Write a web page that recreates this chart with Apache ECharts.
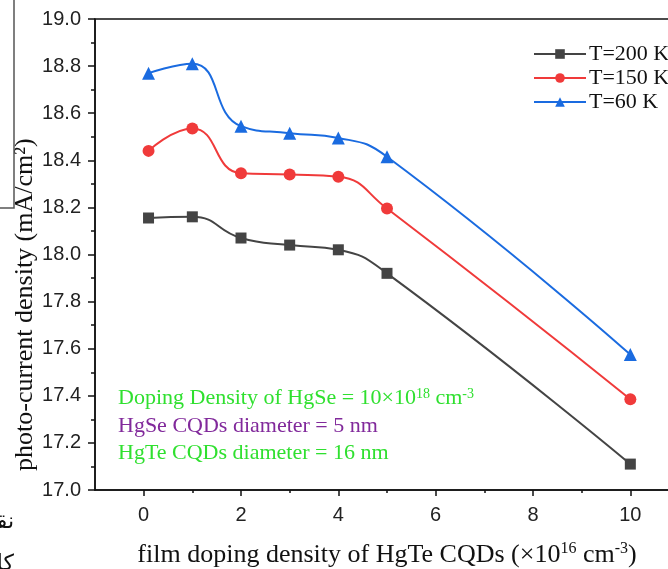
<!DOCTYPE html>
<html>
<head>
<meta charset="utf-8">
<script src="https://cdn.jsdelivr.net/npm/echarts@6/dist/echarts.min.js"></script>
<style>
html,body{margin:0;padding:0;background:#fff;}
#chart{width:668px;height:569px;}
</style>
</head>
<body>
<div id="chart"></div>
<script>
// Data
const dopingX = [0.1, 1, 2, 3, 4, 5, 10];
const t200 = [18.155, 18.16, 18.07, 18.04, 18.02, 17.92, 17.11];
const t150 = [18.44, 18.535, 18.345, 18.34, 18.33, 18.195, 17.385];
const t60 = [18.77, 18.81, 18.545, 18.515, 18.495, 18.415, 17.575];
const seriesNames = ['T=200 K', 'T=150 K', 'T=60 K'];
const xTickLabels = [0, 2, 4, 6, 8, 10];
const xMinorTicks = [1, 3, 5, 7, 9];
const notes = ['Doping Density of HgSe = 10×10{sup|18} cm{sup|-3}', 'HgSe CQDs diameter = 5 nm', 'HgTe CQDs diameter = 16 nm'];

const pair = (xs, ys) => xs.map((x, i) => [x, ys[i]]);
const serif = 'Liberation Serif';
const sans = 'Liberation Sans';

const chart = echarts.init(document.getElementById('chart'), null, {renderer: 'canvas'});
const lineStyles = [
  {color: '#444444', symbol: 'rect', size: 11},
  {color: '#f03a3a', symbol: 'circle', size: 12},
  {color: '#1a6be0', symbol: 'triangle', size: 13}
];
const dataSets = [t200, t150, t60];

chart.setOption({
  animation: false,
  backgroundColor: '#fff',
  grid: {left: 95, top: 19, width: 584, height: 471, containLabel: false, outerBoundsMode: 'none',
    show: true, borderColor: '#111', borderWidth: 1.5, backgroundColor: 'transparent'},
  legend: {
    orient: 'vertical', left: 533, top: 43, itemWidth: 52, itemHeight: 12, itemGap: 2, padding: 0,
    textStyle: {fontFamily: serif, fontSize: 22, color: '#111', padding: [0, 0, 0, -2]},
    data: seriesNames
  },
  xAxis: [{
    type: 'value', min: -1, max: 11,
    axisLine: {onZero: false, lineStyle: {color: '#111', width: 1.5}},
    axisTick: {show: true, length: 6, customValues: xTickLabels, lineStyle: {color: '#111', width: 1.5}},
    axisLabel: {customValues: xTickLabels, margin: 15, fontFamily: sans, fontSize: 20, color: '#222'},
    splitLine: {show: false},
    name: 'film doping density of HgTe CQDs (×10{sup|16} cm{sup|-3})',
    nameLocation: 'middle', nameGap: 51,
    nameTextStyle: {fontFamily: serif, fontSize: 26, color: '#111',
      rich: {sup: {fontFamily: serif, fontSize: 16, verticalAlign: 'top', padding: [0, 0, 12, 0], color: '#111'}}}
  }, {
    type: 'value', min: -1, max: 11, position: 'bottom', gridIndex: 0,
    axisLine: {show: false, onZero: false},
    axisTick: {show: true, length: 3, customValues: xMinorTicks, lineStyle: {color: '#111', width: 1.5}},
    axisLabel: {show: false},
    splitLine: {show: false}
  }],
  yAxis: {
    type: 'value', min: 17, max: 19, interval: 0.2,
    axisLine: {show: true, onZero: false, lineStyle: {color: '#111', width: 1.5}},
    axisTick: {show: true, length: 7, lineStyle: {color: '#111', width: 1.5}},
    minorTick: {show: true, splitNumber: 2, length: 4, lineStyle: {color: '#111', width: 1.5}},
    axisLabel: {margin: 14, fontFamily: sans, fontSize: 20, color: '#222', formatter: v => v.toFixed(1)},
    splitLine: {show: false}
  },
  series: dataSets.map((d, i) => ({
    name: seriesNames[i], type: 'line', smooth: 0.5,
    data: pair(dopingX, d),
    symbol: lineStyles[i].symbol, symbolSize: lineStyles[i].size, showAllSymbol: true,
    lineStyle: {color: lineStyles[i].color, width: 2},
    itemStyle: {color: lineStyles[i].color}
  })),
  graphic: [
    {type: 'text', left: 118, top: 387, style: {text: notes[0], fill: '#2fe02f', font: '22px ' + serif,
      rich: {sup: {fontSize: 14, fontFamily: serif, fill: '#2fe02f', verticalAlign: 'top', padding: [0, 0, 9, 0]}}}},
    {type: 'text', left: 118, top: 415, style: {text: notes[1], fill: '#81299b', font: '22px ' + serif}},
    {type: 'text', left: 118, top: 442, style: {text: notes[2], fill: '#2fe02f', font: '22px ' + serif}},
    {type: 'text', x: 38, y: 471, rotation: Math.PI / 2,
      style: {text: 'photo-current density (mA/cm²)', fill: '#111', font: '26px ' + serif, align: 'left', verticalAlign: 'bottom'}},
    {type: 'polyline', shape: {points: [[14, 0], [14, 208], [0, 208]]}, style: {stroke: '#555', lineWidth: 1.5, fill: null}},
    {type: 'text', x: 14, y: 522, style: {text: 'نقاط', fill: '#111', font: '22px DejaVu Sans', align: 'right', verticalAlign: 'middle'}},
    {type: 'text', x: 14, y: 564, style: {text: 'كا', fill: '#111', font: '22px DejaVu Sans', align: 'right', verticalAlign: 'middle'}}
  ]
});
</script>
</body>
</html>
